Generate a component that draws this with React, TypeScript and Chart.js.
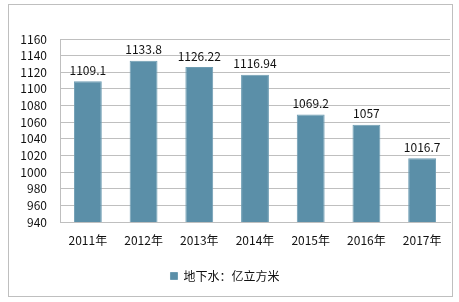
import React, { useEffect, useRef } from "react";
import { Chart, registerables } from "chart.js";

Chart.register(...registerables);

const categories = ["2011年", "2012年", "2013年", "2014年", "2015年", "2016年", "2017年"];
const values = [1109.1, 1133.8, 1126.22, 1116.94, 1069.2, 1057, 1016.7];
const valueLabels = ["1109.1", "1133.8", "1126.22", "1116.94", "1069.2", "1057", "1016.7"];
const seriesName = "地下水：亿立方米";
const yMin = 940;
const yMax = 1160;
const yStep = 20;

const FONT = "'Noto Sans CJK SC', 'Noto Sans', sans-serif";

const framePlugin = {
  id: "frame",
  beforeDraw(chart: any) {
    const ctx = chart.ctx;
    ctx.save();
    ctx.fillStyle = "#ffffff";
    ctx.fillRect(0, 0, chart.width, chart.height);
    ctx.strokeStyle = "#BFBFBF";
    ctx.lineWidth = 1;
    ctx.strokeRect(8.5, 4.5, 444, 292);
    ctx.restore();
  },
};

const labelPlugin = {
  id: "valueLabels",
  afterDatasetsDraw(chart: any) {
    const ctx = chart.ctx;
    const meta = chart.getDatasetMeta(0);
    ctx.save();
    ctx.font = `12px ${FONT}`;
    ctx.fillStyle = "#111111";
    ctx.textAlign = "center";
    ctx.textBaseline = "bottom";
    meta.data.forEach((bar: any, i: number) => {
      ctx.fillText(valueLabels[i], bar.x, bar.y - 5);
    });
    ctx.restore();
  },
};

export default function App() {
  const ref = useRef<HTMLCanvasElement | null>(null);
  useEffect(() => {
    if (!ref.current) return;
    const chart = new Chart(ref.current, {
      type: "bar",
      data: {
        labels: categories,
        datasets: [
          {
            label: seriesName,
            data: values,
            backgroundColor: "#5B8FA8",
            borderColor: "#6E9DB3",
            borderWidth: 1,
            categoryPercentage: 1,
            barPercentage: 0.5,
          },
        ],
      },
      options: {
        responsive: false,
        animation: false,
        layout: { padding: { left: 0, right: 9, top: 39, bottom: 10 } },
        plugins: {
          legend: {
            position: "bottom",
            labels: {
              font: { family: FONT, size: 12 },
              color: "#111111",
              boxWidth: 7,
              boxHeight: 7,
              padding: 10,
            },
          },
          tooltip: { enabled: false },
        },
        scales: {
          x: {
            grid: { display: false, drawTicks: false },
            border: { display: true, color: "#BFBFBF" },
            ticks: { font: { family: FONT, size: 12 }, color: "#111111", padding: 11, autoSkip: false },
            afterFit(scale: any) {
              scale.height = 38;
            },
          },
          y: {
            min: yMin,
            max: yMax,
            grid: { color: "#BFBFBF", drawTicks: false },
            border: { display: true, color: "#BFBFBF" },
            ticks: {
              stepSize: yStep,
              autoSkip: false,
              font: { family: FONT, size: 12 },
              color: "#111111",
              padding: 13,
              callback: (v: any) => String(v),
            },
            afterFit(scale: any) {
              scale.width = 60;
            },
          },
        },
      },
      plugins: [framePlugin, labelPlugin],
    });
    return () => chart.destroy();
  }, []);
  return (
    <div style={{ position: "absolute", left: 0, top: 0, width: 459, height: 302 }}>
      <canvas ref={ref} width={459} height={302} style={{ width: 459, height: 302 }} />
    </div>
  );
}
